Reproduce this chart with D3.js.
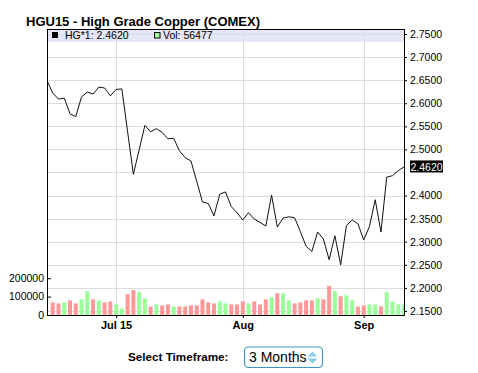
<!DOCTYPE html>
<html>
<head>
<meta charset="utf-8">
<script src="https://cdn.jsdelivr.net/npm/d3@7"></script>
<style>
  body { margin: 0; background: #fff; }
  text { font-family: "Liberation Sans", Arial, sans-serif; }
</style>
</head>
<body>
<div id="chart"></div>
<script>
var title = "HGU15 - High Grade Copper (COMEX)";

var dates = [
  "2015-06-15","2015-06-16","2015-06-17","2015-06-18","2015-06-19","2015-06-22","2015-06-23","2015-06-24","2015-06-25","2015-06-26","2015-06-29","2015-06-30",
  "2015-07-01","2015-07-02","2015-07-06","2015-07-07","2015-07-08","2015-07-09","2015-07-10","2015-07-13","2015-07-14","2015-07-15","2015-07-16","2015-07-17",
  "2015-07-20","2015-07-21","2015-07-22","2015-07-23","2015-07-24","2015-07-27","2015-07-28","2015-07-29","2015-07-30","2015-07-31",
  "2015-08-03","2015-08-04","2015-08-05","2015-08-06","2015-08-07","2015-08-10","2015-08-11","2015-08-12","2015-08-13","2015-08-14",
  "2015-08-17","2015-08-18","2015-08-19","2015-08-20","2015-08-21","2015-08-24","2015-08-25","2015-08-26","2015-08-27","2015-08-28","2015-08-31",
  "2015-09-01","2015-09-02","2015-09-03","2015-09-04","2015-09-08","2015-09-09","2015-09-10","2015-09-11"
];

var closes = [
  2.649, 2.622, 2.609, 2.611, 2.577, 2.571, 2.614, 2.624, 2.620, 2.635, 2.633, 2.616,
  2.630, 2.631, 2.538, 2.446, 2.499, 2.552, 2.538, 2.545, 2.537, 2.523, 2.524, 2.497,
  2.482, 2.475, 2.431, 2.386, 2.383, 2.356, 2.403, 2.408, 2.376, 2.363,
  2.347, 2.363, 2.349, 2.342, 2.334, 2.401, 2.332, 2.351, 2.354, 2.352,
  2.322, 2.290, 2.279, 2.321, 2.306, 2.261, 2.313, 2.250, 2.335, 2.347, 2.339,
  2.304, 2.333, 2.391, 2.321, 2.440, 2.443, 2.454, 2.462
];

var volumes = [
  null, 68500, 63000, 68500, 79600, 63000, 85000, 129600, 85000, 79600, 68500, 74000,
  57400, 35000, 113000, 135000, 124000, 90700, 46300, 57400, 51900, 57400, 46300, 46300,
  46300, 51900, 51900, 85000, 68500, 63000, 74000, 63000, 57400, 57400,
  74000, 63000, 74000, 57400, 85000, 96300, 118500, 118500, 79600, 63000,
  68500, 79600, 79600, 90700, 85000, 157400, 129600, 101900, 107400, 79600, 46300,
  51900, 57400, 57400, 46300, 124000, 74000, 57400, 56477
];

var priceTicks = [2.15, 2.20, 2.25, 2.30, 2.35, 2.40, 2.45, 2.50, 2.55, 2.60, 2.65, 2.70, 2.75];
var volTicks = [0, 100000, 200000];
var xTickDates = ["2015-07-01", "2015-08-03", "2015-09-01"];
var xTickLabels = ["Jul 15", "Aug", "Sep"];
var timeframe = "3 Months";

var svgWidth = 478;
var svgHeight = 373;

var plot = { left: 47, right: 404, top: 29, bottom: 315 };

var svg = d3.select("#chart")
  .append("svg")
  .attr("width", svgWidth)
  .attr("height", svgHeight);

// scales
var xScale = d3.scalePoint()
  .domain(dates)
  .range([plot.left, plot.right]);

var yScale = d3.scaleLinear()
  .domain([2.1413, 2.7608])
  .range([plot.bottom, plot.top]);

var volScale = d3.scaleLinear()
  .domain([0, 1554000])
  .range([plot.bottom, plot.top]);

var fmtPrice = d3.format(".4f");
var last = closes[closes.length - 1];
var lastVol = volumes[volumes.length - 1];

// title
svg.append("text")
  .attr("x", 26)
  .attr("y", 25.5)
  .attr("font-size", "13px")
  .attr("font-weight", "bold")
  .text(title);

// legend band
svg.append("rect")
  .attr("x", plot.left)
  .attr("y", plot.top)
  .attr("width", plot.right - plot.left)
  .attr("height", 13)
  .attr("fill", "#e6e6fa");

// grid
svg.append("g")
  .selectAll("line")
  .data(priceTicks)
  .enter()
  .append("line")
  .attr("x1", plot.left)
  .attr("x2", plot.right)
  .attr("y1", d => Math.round(yScale(d)) + 0.5)
  .attr("y2", d => Math.round(yScale(d)) + 0.5)
  .attr("stroke", "#dcdcdc");

svg.append("g")
  .selectAll("line")
  .data(xTickDates)
  .enter()
  .append("line")
  .attr("x1", d => Math.round(xScale(d)) + 0.5)
  .attr("x2", d => Math.round(xScale(d)) + 0.5)
  .attr("y1", plot.top)
  .attr("y2", plot.bottom)
  .attr("stroke", "#dcdcdc");

// volume bars, coloured by the day's price change
var barData = dates.map((d, i) => ({
  date: d,
  vol: volumes[i],
  up: i > 0 && closes[i] >= closes[i - 1]
})).filter(d => d.vol != null);

svg.append("defs").append("clipPath")
  .attr("id", "plotclip")
  .append("rect")
  .attr("x", plot.left)
  .attr("y", plot.top)
  .attr("width", plot.right - plot.left)
  .attr("height", plot.bottom - plot.top);

svg.append("g")
  .attr("clip-path", "url(#plotclip)")
  .selectAll("rect")
  .data(barData)
  .enter()
  .append("rect")
  .attr("x", d => xScale(d.date) - 2)
  .attr("y", d => volScale(d.vol))
  .attr("width", 4)
  .attr("height", d => plot.bottom - volScale(d.vol))
  .attr("fill", d => d.up ? "#99ff99" : "#ff9999");

// price line
var line = d3.line()
  .x((d, i) => xScale(dates[i]))
  .y(d => yScale(d));

svg.append("path")
  .datum(closes)
  .attr("clip-path", "url(#plotclip)")
  .attr("d", line)
  .attr("fill", "none")
  .attr("stroke", "#111")
  .attr("stroke-width", 1);

// legend
svg.append("rect")
  .attr("x", 52).attr("y", 32)
  .attr("width", 6).attr("height", 6)
  .attr("fill", "#000");
svg.append("text")
  .attr("x", 65).attr("y", 39)
  .attr("font-size", "10.5px")
  .text("HG*1: " + fmtPrice(last));
svg.append("rect")
  .attr("x", 154.5).attr("y", 32.5)
  .attr("width", 5.5).attr("height", 5.5)
  .attr("fill", "#99ff99").attr("stroke", "#000");
svg.append("text")
  .attr("x", 163).attr("y", 39)
  .attr("font-size", "10.5px")
  .text("Vol: " + lastVol);

// top border
svg.append("line")
  .attr("x1", plot.left).attr("x2", plot.right + 1)
  .attr("y1", plot.top + 0.5).attr("y2", plot.top + 0.5)
  .attr("stroke", "#000");

// axes
var rightAxis = d3.axisRight(yScale)
  .tickValues(priceTicks.filter(t => Math.abs(yScale(t) - yScale(last)) > 8))
  .tickFormat(fmtPrice)
  .tickSizeInner(3)
  .tickSizeOuter(0)
  .tickPadding(3);

var gRight = svg.append("g")
  .attr("transform", `translate(${plot.right}, 0)`)
  .call(rightAxis);
gRight.selectAll("text").attr("font-size", "10.5px").attr("font-family", null).attr("fill", "#000");

var leftAxis = d3.axisLeft(volScale)
  .tickValues(volTicks)
  .tickFormat(d3.format("d"))
  .tickSizeInner(-4)
  .tickSizeOuter(0)
  .tickPadding(3);

var gLeft = svg.append("g")
  .attr("transform", `translate(${plot.left}, 0)`)
  .call(leftAxis);
gLeft.selectAll("text").attr("font-size", "10.5px").attr("font-family", null).attr("fill", "#000");

var bottomAxis = d3.axisBottom(xScale)
  .tickValues(xTickDates)
  .tickFormat((d, i) => xTickLabels[i])
  .tickSizeInner(3)
  .tickSizeOuter(0)
  .tickPadding(3);

var gBottom = svg.append("g")
  .attr("transform", `translate(0, ${plot.bottom})`)
  .call(bottomAxis);
gBottom.selectAll("text")
  .attr("font-size", "11px")
  .attr("font-weight", "bold")
  .attr("font-family", null)
  .attr("fill", "#000");

// current price label
var yl = yScale(last);
svg.append("rect")
  .attr("x", 410)
  .attr("y", yl - 6.5)
  .attr("width", 33)
  .attr("height", 12)
  .attr("fill", "#000");
svg.append("text")
  .attr("x", 410.5)
  .attr("y", yl)
  .attr("dy", "0.36em")
  .attr("font-size", "10.5px")
  .attr("fill", "#fff")
  .text(fmtPrice(last));

// timeframe selector
svg.append("text")
  .attr("x", 128)
  .attr("y", 360.5)
  .attr("font-size", "11.7px")
  .attr("font-weight", "bold")
  .text("Select Timeframe:");

svg.append("rect")
  .attr("x", 244.5).attr("y", 347)
  .attr("width", 78).attr("height", 20.5)
  .attr("rx", 4)
  .attr("fill", "#fff")
  .attr("stroke", "#3d97bf")
  .attr("stroke-width", 1.2);

svg.append("text")
  .attr("x", 249)
  .attr("y", 362)
  .attr("font-size", "14px")
  .text(timeframe);

svg.append("path")
  .attr("d", "M312.5,351.5 L317.5,356.5 L307.5,356.5 Z M307.5,358.5 L317.5,358.5 L312.5,363.5 Z")
  .attr("fill", "#8ccbe9");
</script>
</body>
</html>
